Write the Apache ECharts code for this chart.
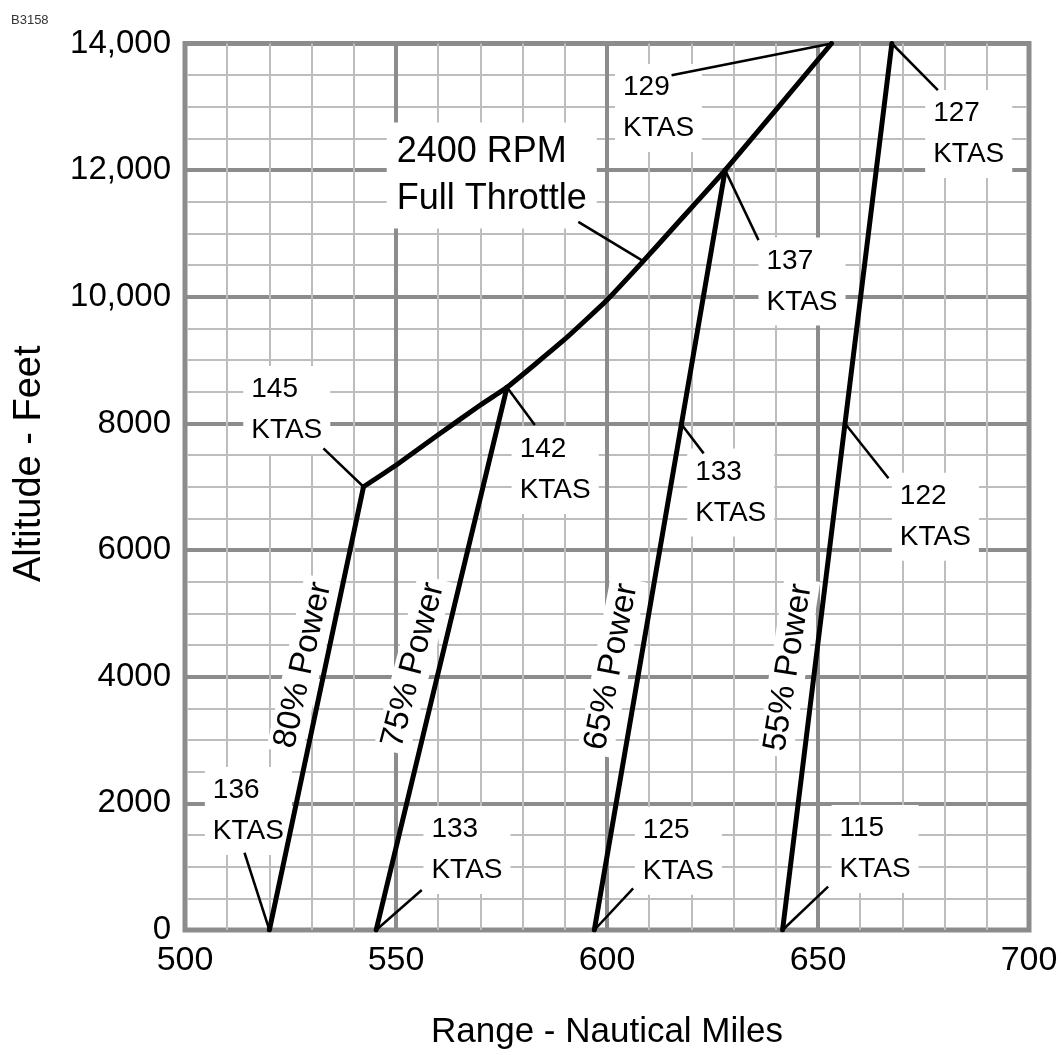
<!DOCTYPE html>
<html><head><meta charset="utf-8">
<script src="https://cdn.jsdelivr.net/npm/echarts@6/dist/echarts.min.js"></script>
<style>html,body{margin:0;padding:0;background:#fff}#c{width:1064px;height:1055px}</style>
</head><body><div id="c"></div>
<script>
// ---- data (range nm, altitude ft) ----
const fullThrottle = [[542.3,7000],[550,7340],[560,7820],[570,8290],[576.3,8570],[590,9330],[600,9950],[608,10520],[616,11110],[628,12000],[653.2,14000]];
const power80 = [[520,0],[542.3,7000]];
const power75 = [[545.3,0],[576.3,8570]];
const power65 = [[597,0],[628,12000]];
const power55 = [[641.6,0],[667.5,14000]];

const yTicks = [0,2000,4000,6000,8000,10000,12000,14000];
const yTickLabels = ['0','2000','4000','6000','8000','10,000','12,000','14,000'];

// annotation texts and their anchors (value coordinates)
const noteText = ['129\nKTAS','127\nKTAS','137\nKTAS','145\nKTAS','142\nKTAS','133\nKTAS','122\nKTAS','136\nKTAS','133\nKTAS','125\nKTAS','115\nKTAS'];
const noteAt = [[601.9,12980],[675.4,12570],[635.9,10240],[513.8,8211],[577.4,7264],[619.0,6908],[667.5,6526],[504.7,1880],[556.5,1263],[606.6,1252],[653.2,1279]];
const rpmText = '2400 RPM\nFull Throttle';
const rpmAt = [547.8,11914];
const powerText = ['80% Power','75% Power','65% Power','55% Power'];
const powerAt = [[528.0,4184],[554.1,4184],[601.1,4158],[643.0,4145]];
const powerAngle = [77.5,75.5,79,81];
const leaders = [
  [[653.2,14000],[615.3,13500]],
  [[667.5,14000],[678.4,13264]],
  [[608.2,10579],[593.2,11184]],
  [[628,12000],[635.9,10895]],
  [[542.3,7000],[532.8,7606]],
  [[576.3,8570],[582.9,7974]],
  [[617.5,8000],[622.9,7527]],
  [[656.4,8000],[666.7,7133]],
  [[520,0],[514.1,1220]],
  [[545.3,0],[556.1,632]],
  [[597,0],[606.2,658]],
  [[641.6,0],[652.4,684]]
];

const FONT = 'Liberation Sans, Arial, Helvetica, sans-serif';
const chart = echarts.init(document.getElementById('c'), null, {renderer:'canvas'});

const thick = (d) => ({type:'line', data:d, symbol:'none', z:5, silent:true,
  lineStyle:{color:'#000', width:5, cap:'round', join:'round'}});

const series = [];
leaders.forEach(l => series.push({type:'line', data:l, symbol:'none', z:4, silent:true,
  lineStyle:{color:'#000', width:2.5}}));
series.push(Object.assign(thick(fullThrottle), {smooth:0.15}));
[power80,power75,power65,power55].forEach(p => series.push(thick(p)));

const labelData = noteText.map((t,i) => ({value:noteAt[i], label:{formatter:t}}));
labelData.push({value:rpmAt, label:{formatter:rpmText, fontSize:36, lineHeight:47, padding:[6,10]}});
powerText.forEach((t,i) => labelData.push({value:powerAt[i],
  label:{formatter:t, fontSize:33, lineHeight:36, rotate:powerAngle[i], align:'center', padding:[0,5]}}));

series.push({type:'scatter', data:labelData, symbolSize:1, z:2, silent:true,
  itemStyle:{color:'rgba(0,0,0,0)', opacity:1},
  label:{show:true, position:'inside', align:'left', verticalAlign:'middle', opacity:1,
    fontFamily:FONT, fontSize:28, lineHeight:41, color:'#000',
    textBorderWidth:0, backgroundColor:'#fff', padding:[3,8]}});

chart.setOption({
  animation:false,
  backgroundColor:'#fff',
  title:{text:'B3158', left:6, top:9, textStyle:{fontFamily:FONT, fontSize:13, fontWeight:'normal', color:'#333'}},
  grid:{left:185, right:35, top:43.5, bottom:125, show:true, borderColor:'#8c8c8c', borderWidth:5, backgroundColor:'#fff'},
  xAxis:{type:'value', min:500, max:700, interval:50,
    name:'Range - Nautical Miles', nameLocation:'middle', nameGap:85,
    nameTextStyle:{fontFamily:FONT, fontSize:35, color:'#000'},
    axisLine:{show:false}, axisTick:{show:false},
    axisLabel:{fontFamily:FONT, fontSize:34, color:'#000', margin:14, showMinLabel:true, showMaxLabel:true},
    splitLine:{show:true, lineStyle:{color:'#8c8c8c', width:4}},
    minorTick:{show:false, splitNumber:5},
    minorSplitLine:{show:true, lineStyle:{color:'#bdbdbd', width:2}}},
  yAxis:{type:'value', min:0, max:14000, interval:2000,
    name:'Altitude - Feet', nameLocation:'middle', nameGap:136, nameRotate:90,
    nameTextStyle:{fontFamily:FONT, fontSize:38, color:'#000', padding:[0,0,0,46]},
    axisLine:{show:false}, axisTick:{show:false},
    axisLabel:{fontFamily:FONT, fontSize:33, color:'#000', margin:14, showMinLabel:true, showMaxLabel:true,
      formatter:v => { const i = yTicks.indexOf(v); return i >= 0 ? yTickLabels[i] : ''; }},
    splitLine:{show:true, lineStyle:{color:'#8c8c8c', width:4}},
    minorTick:{show:false, splitNumber:4},
    minorSplitLine:{show:true, lineStyle:{color:'#bdbdbd', width:2}}},
  series:series
});
</script></body></html>
